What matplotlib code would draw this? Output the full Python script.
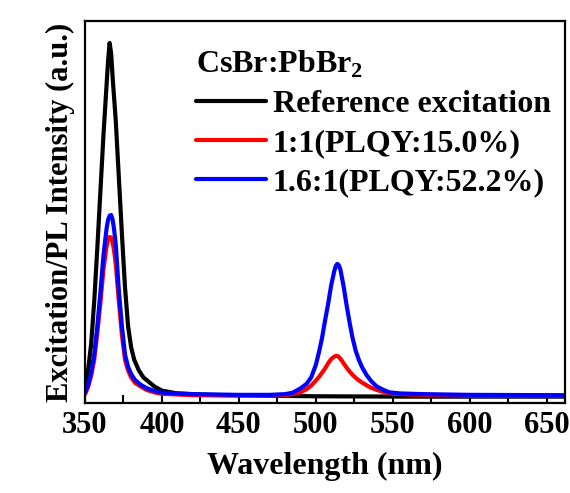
import numpy as np
import matplotlib
matplotlib.use("Agg")
from matplotlib import pyplot as plt

# wavelengths (nm) and intensities
wl_ref = [350, 352, 354, 356, 358, 360, 362, 364, 365, 366, 367, 368, 370, 372,
          374, 376, 378, 380, 382, 385, 388, 390, 395, 400, 410, 430, 460, 500,
          560, 662]
ref_exc = [0.035, 0.075, 0.15, 0.27, 0.42, 0.58, 0.74, 0.88, 0.95, 1.0, 0.97,
           0.9, 0.78, 0.62, 0.46, 0.31, 0.2, 0.14, 0.105, 0.075, 0.055, 0.048,
           0.03, 0.018, 0.01, 0.006, 0.004, 0.002, 0.001, 0.001]

wl_s = [350, 352, 354, 356, 358, 360, 362, 364, 365, 366, 367, 368, 369, 370,
        372, 374, 376, 378, 380, 382.5, 386, 390, 395, 400, 420, 450, 470, 480,
        485, 490, 494, 497, 500, 502, 504, 506, 508, 510, 512, 513, 514, 515,
        516, 518, 520, 522, 524, 526, 528, 530, 533, 536, 539.5, 544, 548, 555,
        570, 600, 662]
red = [0.008, 0.028, 0.06, 0.105, 0.18, 0.265, 0.36, 0.425, 0.445, 0.452, 0.45,
       0.435, 0.41, 0.375, 0.27, 0.175, 0.105, 0.075, 0.055, 0.04, 0.03, 0.02,
       0.013, 0.009, 0.005, 0.004, 0.004, 0.005, 0.008, 0.013, 0.022, 0.032,
       0.046, 0.056, 0.068, 0.08, 0.095, 0.107, 0.114, 0.116, 0.116, 0.113,
       0.108, 0.096, 0.083, 0.072, 0.062, 0.054, 0.047, 0.041, 0.033, 0.026,
       0.02, 0.014, 0.01, 0.008, 0.006, 0.004, 0.004]
blue = [0.012, 0.035, 0.07, 0.12, 0.2, 0.295, 0.40, 0.475, 0.5, 0.512, 0.514,
        0.5, 0.47, 0.43, 0.30, 0.2, 0.12, 0.085, 0.065, 0.048, 0.035, 0.025,
        0.017, 0.012, 0.008, 0.006, 0.006, 0.008, 0.012, 0.024, 0.037, 0.055,
        0.09, 0.125, 0.165, 0.215, 0.262, 0.315, 0.355, 0.37, 0.376, 0.372,
        0.36, 0.315, 0.26, 0.21, 0.165, 0.13, 0.105, 0.085, 0.062, 0.045, 0.03,
        0.02, 0.013, 0.01, 0.008, 0.006, 0.005]

labels = ["Reference excitation", "1:1(PLQY:15.0%)", "1.6:1(PLQY:52.2%)"]
colors = ["black", "#ff0000", "#0000ff"]

plt.rcParams["font.family"] = "Liberation Serif"
plt.rcParams["font.weight"] = "bold"
plt.rcParams["mathtext.fontset"] = "custom"
plt.rcParams["mathtext.rm"] = "Liberation Serif:bold"

fig = plt.figure(figsize=(5.7, 4.93), dpi=100)
ax = fig.add_axes([85 / 570, 1 - 403 / 493, 480 / 570, 382 / 493])

kw = dict(lw=3.0, solid_joinstyle="round", solid_capstyle="round")
ax.plot(wl_ref, ref_exc, color=colors[0], label=labels[0], **kw)
ax.plot(wl_s, red, color=colors[1], label=labels[1], **kw)
ax.plot(wl_s, blue, color=colors[2], label=labels[2], **kw)

ax.set_xlim(350, 662)
ax.set_ylim(-0.017, 1.062)
ax.set_xticks(np.arange(350, 651, 50))
ax.set_xticks(np.arange(375, 662, 50), minor=True)
ax.set_yticks([])
ax.tick_params(axis="x", which="both", direction="in", length=6, width=1.5,
               labelsize=22, pad=6)
for sp in ax.spines.values():
    sp.set_linewidth(1.6)

ax.set_xlabel("Wavelength (nm)", fontsize=23, fontweight="bold", labelpad=8)
ax.set_ylabel("Excitation/PL Intensity (a.u.)", fontsize=22, fontweight="bold",
              labelpad=7)

leg = ax.legend(loc="upper left", bbox_to_anchor=(0.185, 0.985), frameon=False,
                title="CsBr:PbBr$_2$", alignment="left",
                prop={"size": 23, "weight": "bold"},
                title_fontproperties={"size": 23, "weight": "bold"},
                handlelength=2.2, handletextpad=0.2, labelspacing=0.3,
                borderaxespad=0.3)

plt.savefig("out.png", dpi=100)
plt.close()
